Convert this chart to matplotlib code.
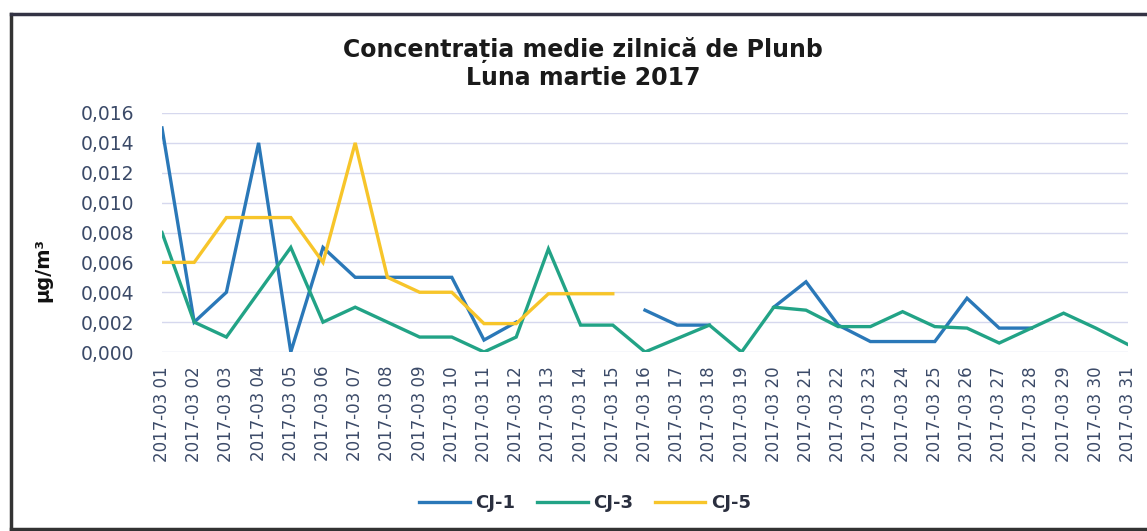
import matplotlib
matplotlib.use("Agg")
import matplotlib.pyplot as plt
import numpy as np
from matplotlib.lines import Line2D
from matplotlib.ticker import FuncFormatter

days = list(range(1, 32))
labels = [f"2017-03 {d:02d}" for d in days]
nan = np.nan
cj1 = [0.015, 0.002, 0.004, 0.014, 0.000, 0.007, 0.005, 0.005, 0.005, 0.005,
       0.0008, 0.002, nan, nan, nan, 0.0028, 0.0018, 0.0018, nan, 0.003,
       0.0047, 0.0018, 0.0007, 0.0007, 0.0007, 0.0036, 0.0016, 0.0016, nan, nan, nan]
cj3 = [0.008, 0.002, 0.001, 0.004, 0.007, 0.002, 0.003, 0.002, 0.001, 0.001,
       0.000, 0.001, 0.0069, 0.0018, 0.0018, 0.000, 0.0009, 0.0018, 0.000, 0.003,
       0.0028, 0.0017, 0.0017, 0.0027, 0.0017, 0.0016, 0.0006, 0.0016, 0.0026, 0.0016, 0.0005]
cj5 = [0.006, 0.006, 0.009, 0.009, 0.009, 0.006, 0.014, 0.005, 0.004, 0.004,
       0.0019, 0.0019, 0.0039, 0.0039, 0.0039] + [nan] * 16
series_names = ["CJ-1", "CJ-3", "CJ-5"]
colors = ["#2a78b8", "#22a386", "#f7c52a"]
yticks = [0.000, 0.002, 0.004, 0.006, 0.008, 0.010, 0.012, 0.014, 0.016]

W, H = 1147, 531
fig = plt.figure(figsize=(W / 100, H / 100), dpi=100)
ax = fig.add_axes([162 / W, 1 - 352 / H, (1128 - 162) / W, (352 - 113) / H])

for vals, c, n in zip([cj1, cj3, cj5], colors, series_names):
    ax.plot(days, vals, color=c, lw=2.4, label=n, solid_joinstyle="miter")

ax.set_xlim(1, 31)
ax.set_ylim(0, 0.016)
ax.set_yticks(yticks)
ax.yaxis.set_major_formatter(FuncFormatter(lambda v, p: f"{v:.3f}".replace(".", ",")))
ax.set_xticks(days)
ax.set_xticklabels(labels, rotation=90, va="top", ha="center")
tick_color = "#3b4a68"
ax.tick_params(axis="x", length=0, pad=10, labelsize=12, colors=tick_color)
ax.tick_params(axis="y", length=0, pad=20, labelsize=13.5, colors=tick_color)
ax.grid(axis="y", color="#d6d8ee", lw=1.0)
ax.set_axisbelow(True)
for s in ax.spines.values():
    s.set_visible(False)

fig.text(43 / W, 1 - 270 / H, "µg/m³", rotation=90, ha="center", va="center",
         fontsize=14, fontweight="bold", color="#111111")
fig.text(583 / W, 1 - 50 / H, "Concentrația medie zilnică de Plunb", ha="center",
         va="center", fontsize=17, fontweight="bold", color="#1a1a1a")
fig.text(583 / W, 1 - 78 / H, "Luna martie 2017", ha="center", va="center",
         fontsize=17, fontweight="bold", color="#1a1a1a")

handles = [Line2D([0], [0], color=c, lw=2.4) for c in colors]
leg = fig.legend(handles, series_names, loc="center", bbox_to_anchor=(585 / W, 1 - 503 / H),
                 ncol=3, frameon=False, handlelength=2.8, columnspacing=1.2,
                 handletextpad=0.3, prop={"weight": "bold", "size": 13})
for t in leg.get_texts():
    t.set_color("#2a2f3f")

# outer frame
fig.add_artist(Line2D([11 / W, 11 / W], [1 - 14 / H, 1 - 529 / H], color="#333333", lw=2.5))
fig.add_artist(Line2D([11 / W, 1145 / W], [1 - 14 / H, 1 - 14 / H], color="#333344", lw=2.5))
fig.add_artist(Line2D([11 / W, 1145 / W], [1 - 529 / H, 1 - 529 / H], color="#333333", lw=2.5))

fig.savefig("out.png", dpi=100)
